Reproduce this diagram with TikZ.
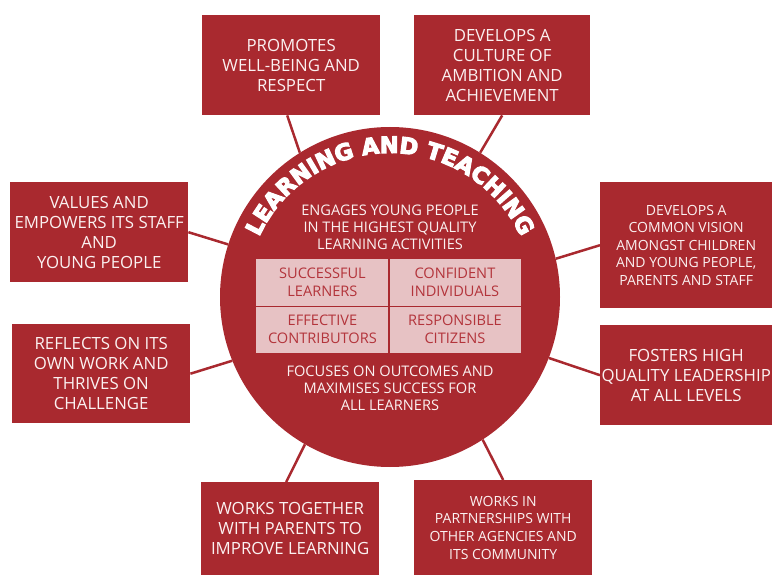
\documentclass[tikz,border=0pt]{standalone}
\usepackage{fontspec}
\setmainfont{Open Sans}
\newfontfamily\ltfont{DejaVu Sans}
\newcommand\heavytext{\special{pdf:literal direct 2 Tr 1.1 w}}
\usetikzlibrary{decorations.text,calc}
\definecolor{cred}{HTML}{A9292F}
\definecolor{cpink}{HTML}{E7C2C4}
\definecolor{ctext}{HTML}{B3343B}
\definecolor{cwhite}{HTML}{FBF1F1}
\begin{document}
\begin{tikzpicture}[x=1pt,y=-1pt,
  box/.style={fill=cred, text=cwhite, align=center, inner sep=0pt, anchor=north west, font=\fontsize{16.8}{20}\selectfont},
  sbox/.style={box, font=\fontsize{14}{17.6}\selectfont},
  link/.style={draw=cred, line width=2.5pt},
  cell/.style={fill=cpink, text=ctext, align=center, inner sep=0pt, anchor=north west, minimum width=132.5pt, minimum height=47pt, font=\fontsize{14.6}{18}\selectfont},
  inner/.style={align=center, text=cwhite, font=\fontsize{14.6}{16.8}\selectfont},
]
\useasboundingbox (0,0) rectangle (772,575);
\node[circle, fill=cred, minimum size=340pt, inner sep=0pt] (c) at (390,297) {};

\node[box, minimum width=178pt, minimum height=100pt] (b1) at (202,15) {PROMOTES\\WELL-BEING AND\\RESPECT};
\node[box, minimum width=176pt, minimum height=100pt] (b2) at (414,15) {DEVELOPS A\\CULTURE OF\\AMBITION AND\\ACHIEVEMENT};
\node[box, minimum width=178pt, minimum height=100pt] (b3) at (10,182) {VALUES AND\\EMPOWERS ITS STAFF\\AND\\YOUNG PEOPLE};
\node[box, minimum width=178pt, minimum height=99pt] (b4) at (12,324) {REFLECTS ON ITS\\OWN WORK AND\\THRIVES ON\\CHALLENGE};
\node[sbox, minimum width=172pt, minimum height=126pt] (b5) at (600,182) {DEVELOPS A\\COMMON VISION\\AMONGST CHILDREN\\AND YOUNG PEOPLE,\\PARENTS AND STAFF};
\node[box, minimum width=172pt, minimum height=100pt] (b6) at (600,325) {FOSTERS HIGH\\QUALITY LEADERSHIP\\AT ALL LEVELS};
\node[box, minimum width=178pt, minimum height=93pt] (b7) at (201,482) {WORKS TOGETHER\\WITH PARENTS TO\\IMPROVE LEARNING};
\node[sbox, minimum width=178pt, minimum height=95pt] (b8) at (414,480) {WORKS IN\\PARTNERSHIPS WITH\\OTHER AGENCIES AND\\ITS COMMUNITY};

\draw[link] ($(b1.south)+(-4,0)$) -- (c.122);
\draw[link] (b2.south) -- (c.58);
\draw[link] (b3.east) -- (c.162);
\draw[link] (b4.east) -- (c.202.5);
\draw[link] (b5.west) -- (c.13);
\draw[link] (b6.west) -- (c.-21);
\draw[link] ($(b7.north)+(-4,0)$) -- (c.-120.5);
\draw[link] (b8.north) -- (c.-57.5);

\node[inner] (eng) at (390,227) {ENGAGES YOUNG PEOPLE\\IN THE HIGHEST QUALITY\\LEARNING ACTIVITIES};
\node[inner] (foc) at (390,388) {FOCUSES ON OUTCOMES AND\\MAXIMISES SUCCESS FOR\\ALL LEARNERS};

\node[cell] (g1) at (256,259) {SUCCESSFUL\\LEARNERS};
\node[cell] (g2) at (388.5,259) {CONFIDENT\\INDIVIDUALS};
\node[cell] (g3) at (256,306) {EFFECTIVE\\CONTRIBUTORS};
\node[cell] (g4) at (388.5,306) {RESPONSIBLE\\CITIZENS};
\draw[draw=cred, line width=1.3pt] (g1.north east) -- (g3.south east);
\draw[draw=cred, line width=1.3pt] (g1.south west) -- (g2.south east);

\path[decorate, decoration={text along path, text align=center, text color=white,
  text={|\ltfont\bfseries\fontsize{22.5}{23}\selectfont\heavytext|LEARNING AND TEACHING}}]
  ($(c.center)+(155:144pt)$) arc[start angle=155, end angle=25, radius=144pt];
\end{tikzpicture}
\end{document}
